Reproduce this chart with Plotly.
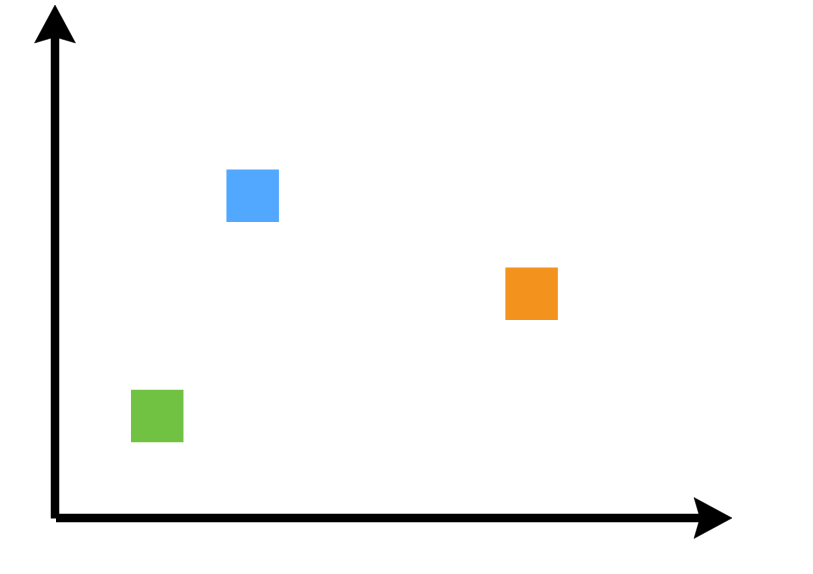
import plotly.graph_objects as go

# Data
categories = ["green", "blue", "orange"]
x_values = [1.51, 2.92, 7.04]
y_values = [1.99, 6.28, 4.37]
colors = ["#71C142", "#52A8FF", "#F4921E"]

W, H = 813, 574
KX, KY = 67.7, 51.3          # pixels per data unit
OX, OY = 55, 518             # origin pixel
x_range = [-OX / KX, (W - OX) / KX]
y_range = [-(H - OY) / KY, OY / KY]

x_tip = (732 - OX) / KX
y_tip = (OY - 5) / KY

fig = go.Figure()
fig.add_trace(go.Scatter(
    x=x_values, y=y_values, mode="markers",
    marker=dict(symbol="square", size=52.5, color=colors, line=dict(width=0)),
    text=categories, hoverinfo="text", showlegend=False,
))

LW = 8.5
L, HW, N = 38, 20.5, 32  # arrowhead length, half width, notch depth (px)

# axis lines
fig.add_shape(type="line", x0=0, y0=-0.5 / KY, x1=0, y1=y_tip - (N - 2) / KY,
              line=dict(color="black", width=LW), layer="above")
fig.add_shape(type="line", x0=1 / KX, y0=0, x1=x_tip - (N - 2) / KX, y1=0,
              line=dict(color="black", width=LW), layer="above")

# arrowheads
vpath = (f"M0,{y_tip} L{-HW / KX},{y_tip - L / KY} L0,{y_tip - N / KY} "
         f"L{HW / KX},{y_tip - L / KY} Z")
hpath = (f"M{x_tip},0 L{x_tip - L / KX},{HW / KY} L{x_tip - N / KX},0 "
         f"L{x_tip - L / KX},{-HW / KY} Z")
for p in (vpath, hpath):
    fig.add_shape(type="path", path=p, fillcolor="black",
                  line=dict(color="black", width=0.5), layer="above")

fig.update_layout(
    width=W, height=H, autosize=False,
    margin=dict(l=0, r=0, t=0, b=0, pad=0),
    paper_bgcolor="white", plot_bgcolor="white",
    xaxis=dict(range=x_range, visible=False, fixedrange=True),
    yaxis=dict(range=y_range, visible=False, fixedrange=True),
)
fig.write_html("out.html")
